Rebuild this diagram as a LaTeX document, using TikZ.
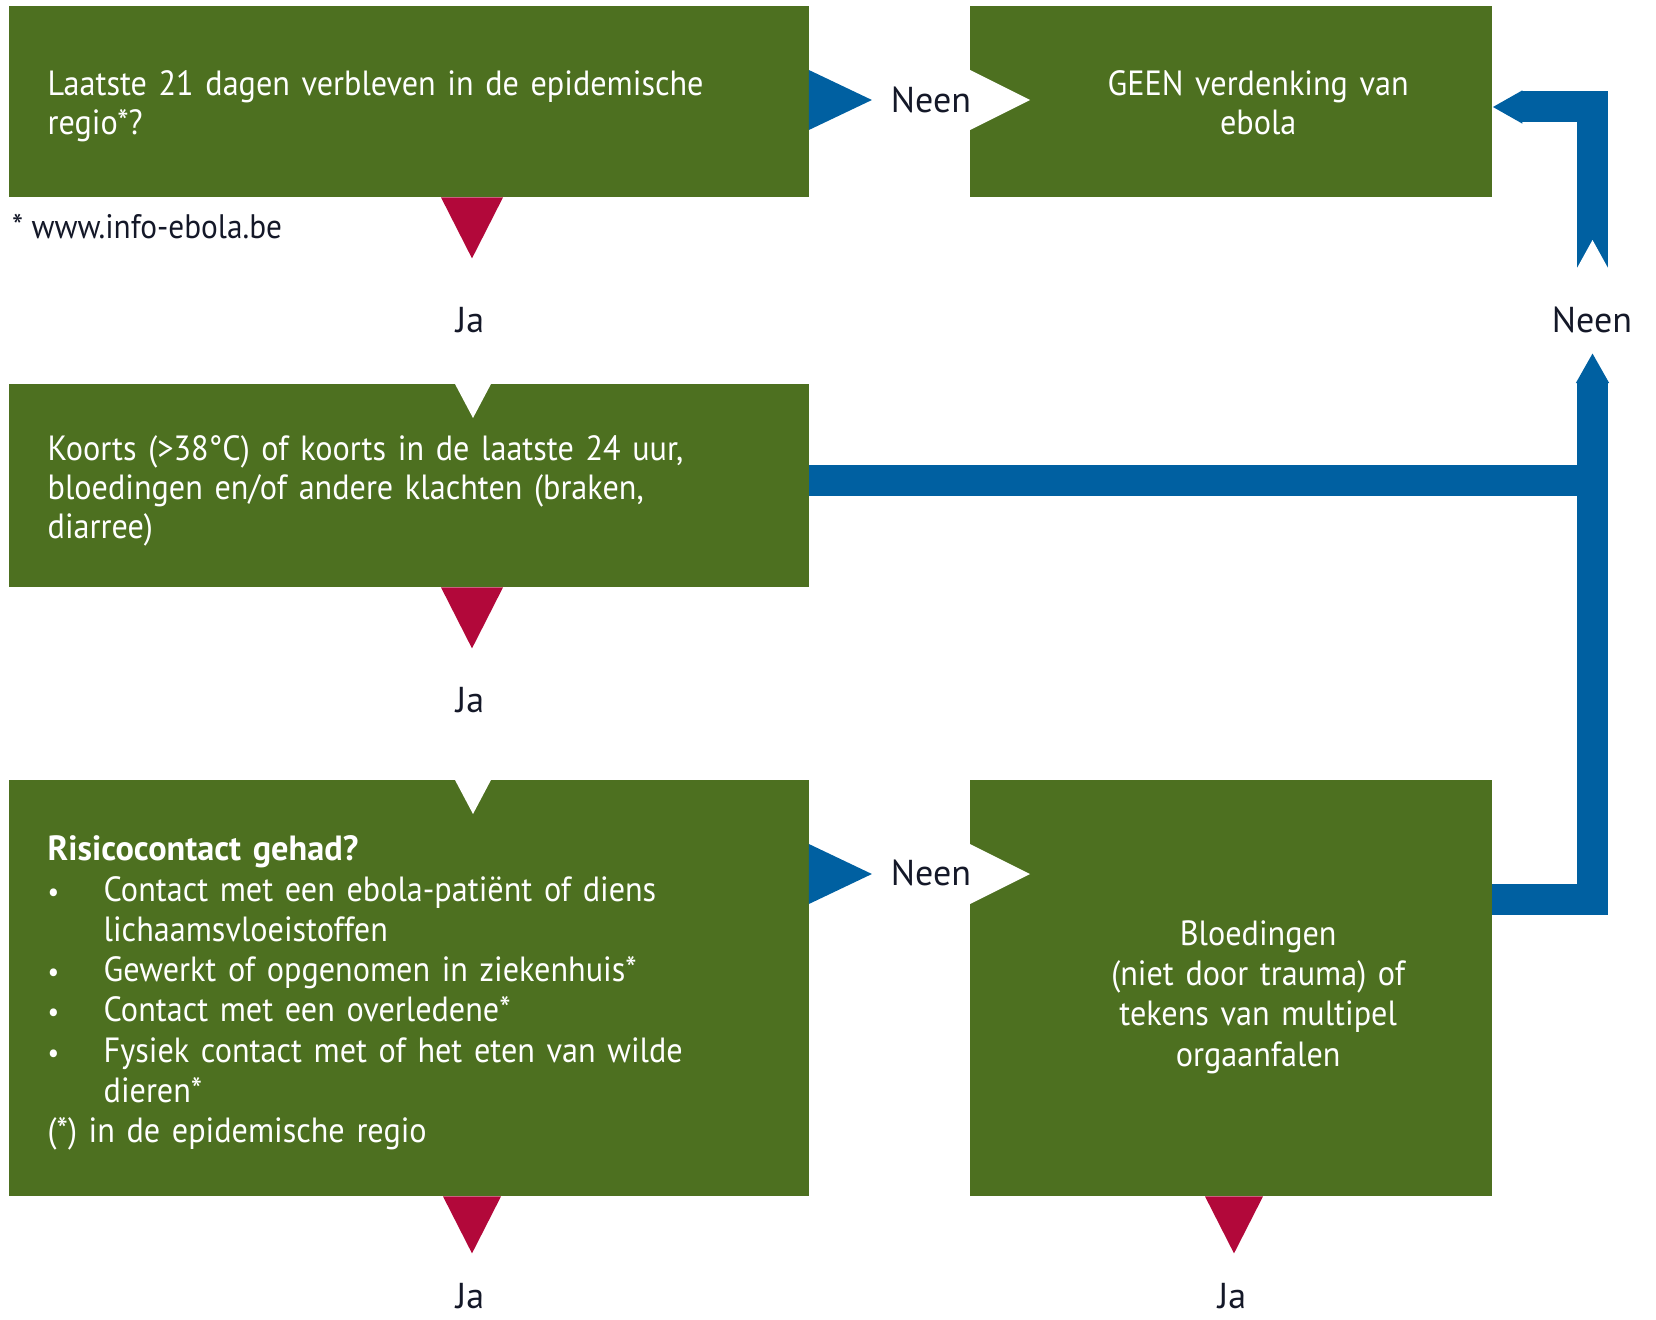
\documentclass[tikz,border=0pt]{standalone}
\usepackage{fontspec}
\setmainfont{PT Sans}[FakeStretch=0.92, BoldFeatures={FakeStretch=0.98}]
\newfontfamily\lblfont{PT Sans}
\usepackage{tikz}
\usetikzlibrary{
  arrows.meta,
  positioning,
  calc
}

\definecolor{ebgreen}{RGB}{77,112,32}
\definecolor{ebblue}{RGB}{0,96,161}
\definecolor{ebred}{RGB}{178,8,58}
\definecolor{ebink}{RGB}{20,24,40}

\newcommand{\itembul}{\makebox[56pt][l]{\fontsize{28}{28}\selectfont\textbullet}}

\begin{document}
\begin{tikzpicture}[x=1pt, y=-1pt,
  box/.style={fill=ebgreen, text=white, anchor=north west, inner xsep=39pt, inner ysep=0pt,
    text height=27pt, font=\fontsize{35}{39}\selectfont},
  leftbox/.style={box, align=left, text width=722pt, minimum width=800pt},
  rightbox/.style={box, align=center, text width=444pt, minimum width=522pt,
    execute at begin node={\leftskip=54pt plus 1fil\rightskip=0pt plus 1fil\parfillskip=0pt}},
  wide/.style={font=\fontsize{35}{40.3}\selectfont},
  lbl/.style={font=\lblfont\fontsize{36}{40}\selectfont, text=ebink, inner sep=0pt},
  note/.style={font=\fontsize{34}{38}\selectfont, text=ebink, inner sep=0pt, anchor=west},
  flow/.style={ebblue, line width=31pt, line join=miter},
  flowtip/.style={-{Triangle[length=30pt, width=0pt 1]}},
  redtip/.style={fill=ebred},
  bluetip/.style={fill=ebblue},
  notch/.style={fill=white}]
\useasboundingbox (0,0) rectangle (1656,1319);

% vragen
\node[leftbox, minimum height=191pt, text depth=39pt] (q1) at (8.5,6)
  {Laatste 21 dagen verbleven in de epidemische\\ regio*?};
\node[rightbox, minimum height=191pt, text depth=39pt] (geen) at (970,6)
  {GEEN verdenking van\\ ebola};
\node[leftbox, minimum height=203pt, text depth=78pt] (q3) at (8.5,384)
  {Koorts (>38°C) of koorts in de laatste 24 uur,\\ bloedingen en/of andere klachten (braken,\\ diarree)};
\node[leftbox, wide, minimum height=416pt, text depth=282pt] (q4) at (8.5,780)
  {{\bfseries Risicocontact gehad?}\\
   \itembul Contact met een ebola-patiënt of diens\\
   \hspace*{56pt}lichaamsvloeistoffen\\
   \itembul Gewerkt of opgenomen in ziekenhuis*\\
   \itembul Contact met een overledene*\\
   \itembul Fysiek contact met of het eten van wilde\\
   \hspace*{56pt}dieren*\\
   (*) in de epidemische regio};
\node[rightbox, wide, minimum height=416pt, text depth=113pt] (bleed) at (970,780)
  {Bloedingen\\ (niet door trauma) of\\ tekens van multipel\\ orgaanfalen};

\node[note] (web) at (12,227) {* www.info-ebola.be};

% labels
\node[lbl] (ja1) at (470,320) {Ja};
\node[lbl] (ja2) at (470,700) {Ja};
\node[lbl] (ja3) at (470,1296) {Ja};
\node[lbl] (ja4) at (1232,1296) {Ja};
\node[lbl] (neen1) at (931,100) {Neen};
\node[lbl] (neen2) at (931,873) {Neen};
\node[lbl] (neen3) at (1592,320) {Neen};

% ja: rode punt en inkeping
\fill[redtip] (q1.south -| ja1) ++(-29,0) -- ++(62,0) -- ++(-31,61) -- cycle;
\fill[notch] (q3.north -| ja1) ++(-15,0) -- ++(36,0) -- ++(-18,34) -- cycle;
\fill[redtip] (q3.south -| ja2) ++(-29,0) -- ++(62,0) -- ++(-31,61) -- cycle;
\fill[notch] (q4.north -| ja2) ++(-15,0) -- ++(36,0) -- ++(-18,34) -- cycle;
\fill[redtip] (q4.south -| ja3) ++(-27,0) -- ++(58,0) -- ++(-29,57) -- cycle;
\fill[redtip] (bleed.south -| ja4) ++(-27,0) -- ++(58,0) -- ++(-29,57) -- cycle;

% neen: blauwe punt en inkeping
\fill[bluetip] ($(q1.north east)+(0,64)$) -- ++(63,30) -- ++(-63,30) -- cycle;
\fill[notch] ($(geen.north west)+(0,64)$) -- ++(60,30) -- ++(-60,30) -- cycle;
\fill[bluetip] ($(q4.north east)+(0,64)$) -- ++(63,30) -- ++(-63,30) -- cycle;
\fill[notch] ($(bleed.north west)+(0,64)$) -- ++(60,30) -- ++(-60,30) -- cycle;

% blauwe terugkoppeling rechts
\coordinate (rtip) at (1592.5,353);
\coordinate (rnotch) at (1592.5,269);
\coordinate (q3out) at ($(q3.north east)+(0,96)$);
\draw[flow, flowtip] ($(bleed.north east)+(0,119.5)$) -| (rtip);
\draw[flow] (q3out) -- (q3out -| rtip);
\draw[flow, flowtip] (rnotch) |- ($(geen.north east)+(0,101)$);
\fill[notch] (rnotch) ++(-16,0) -- ++(16,-29) -- ++(16,29) -- cycle;
\end{tikzpicture}
\end{document}
